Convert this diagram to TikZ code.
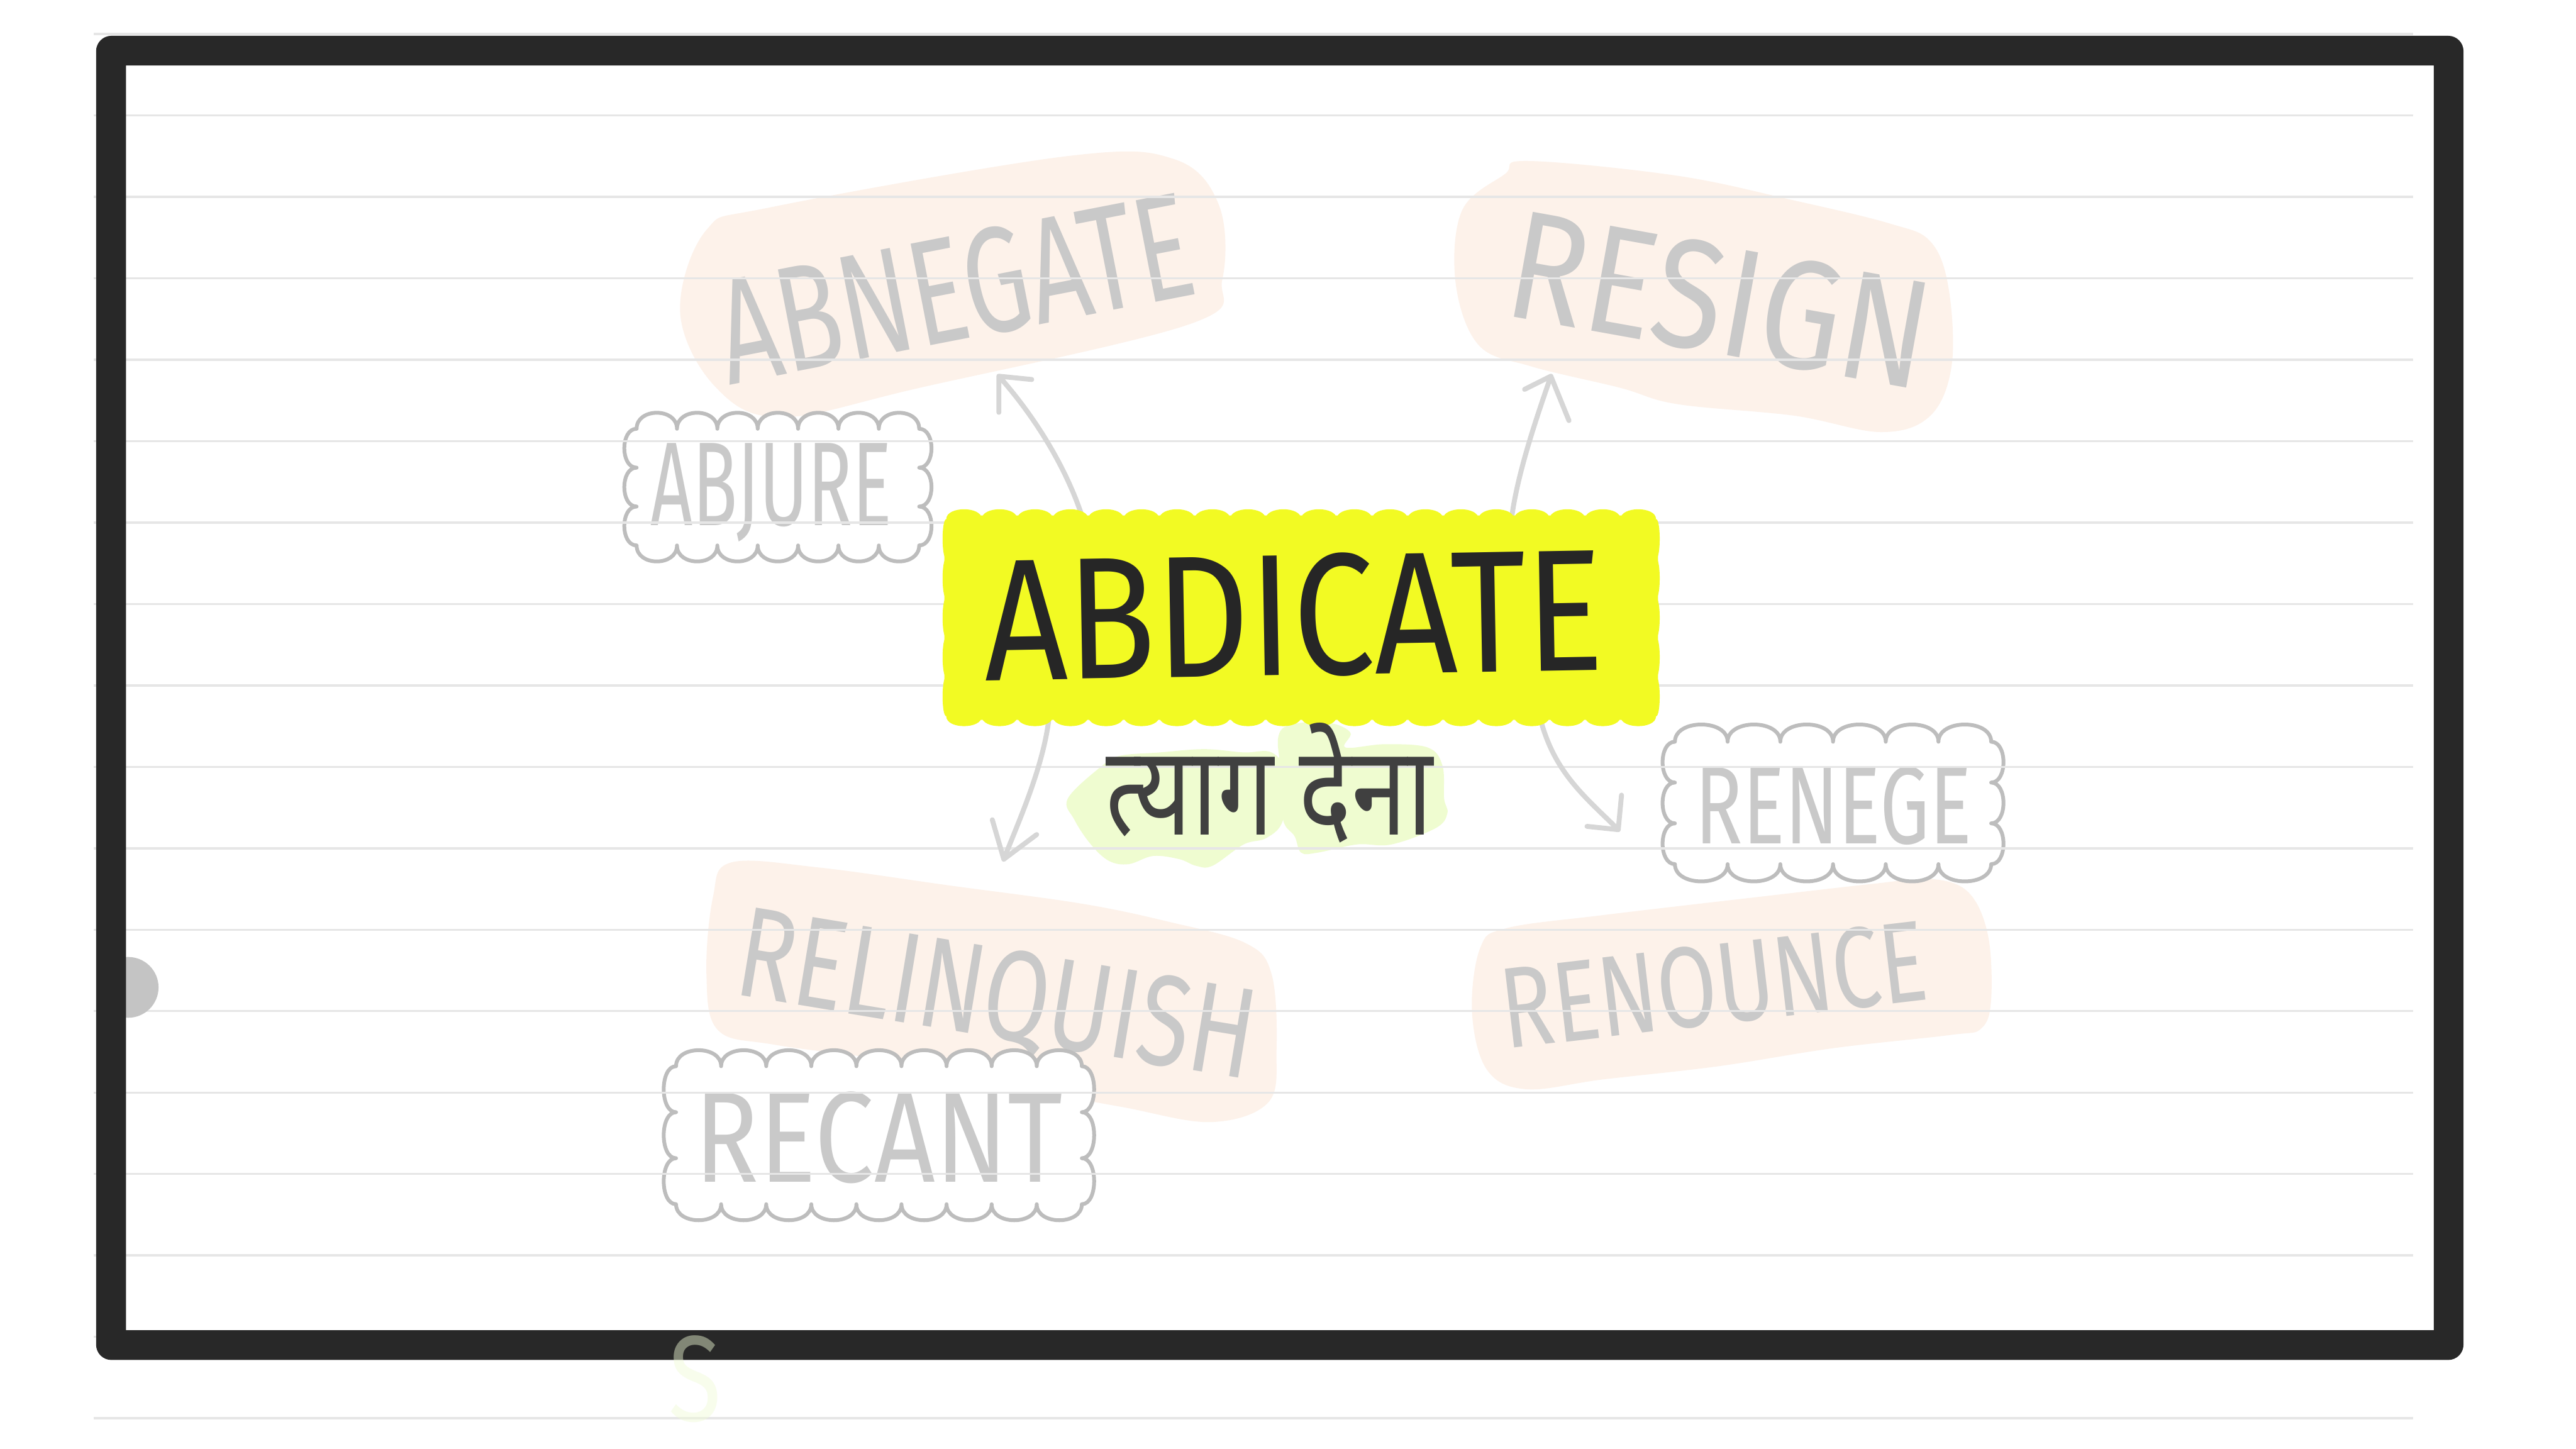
\documentclass[tikz,border=0pt]{standalone}
\usepackage{fontspec}
\usepackage{graphicx}
\usetikzlibrary{calc}
\newfontfamily\handfont{Fira Sans}
\newfontfamily\devafont[Script=Devanagari]{Noto Sans}
\definecolor{framec}{HTML}{282828}
\definecolor{rulec}{HTML}{E6E6E6}
\definecolor{peach}{RGB}{253,242,234}
\definecolor{lime}{RGB}{239,252,208}
\definecolor{hiyellow}{RGB}{242,250,35}
\definecolor{ink}{HTML}{262626}
\definecolor{devink}{HTML}{404040}
\definecolor{faint}{HTML}{C9C9C9}
\definecolor{cloudc}{HTML}{BDBDBD}
\definecolor{arrowc}{HTML}{D6D6D6}
\definecolor{dotc}{HTML}{C4C4C4}
\definecolor{strayc}{RGB}{240,252,215}
% #1 style, #2 x1, #3 y1, #4 x2, #5 y2, #6 bumps across, #7 bumps down, #8 top/bottom bulge, #9 side bulge
\newcommand\puffpath[9]{%
  \pgfmathsetmacro\pdx{(#4-#2)/#6}%
  \pgfmathsetmacro\pdy{(#5-#3)/#7}%
  \path[#1] (#2,#3)
    \foreach \i in {1,...,#6} { .. controls ({#2+(\i-1)*\pdx},{#3-#8}) and ({#2+\i*\pdx},{#3-#8}) .. ({#2+\i*\pdx},#3) }
    \foreach \j in {1,...,#7} { .. controls ({#4+#9},{#3+(\j-1)*\pdy}) and ({#4+#9},{#3+\j*\pdy}) .. (#4,{#3+\j*\pdy}) }
    \foreach \i in {1,...,#6} { .. controls ({#4-(\i-1)*\pdx},{#5+#8}) and ({#4-\i*\pdx},{#5+#8}) .. ({#4-\i*\pdx},#5) }
    \foreach \j in {1,...,#7} { .. controls ({#2-#9},{#5-(\j-1)*\pdy}) and ({#2-#9},{#5-\j*\pdy}) .. (#2,{#5-\j*\pdy}) }
    -- cycle;%
}
\begin{document}
\begin{tikzpicture}[x=1pt,y=-1pt,
  ruleline/.style={draw=rulec, line width=1.3pt},
  word/.style={inner sep=0pt, outer sep=0pt, text depth=0pt, font=\handfont},
  faintword/.style={word, text=faint},
  cloudfill/.style={fill=white},
  cloudedge/.style={draw=cloudc, line width=2.3pt, line join=round},
  conn/.style={draw=arrowc, line width=3pt, line cap=round, line join=round},
  boxfill/.style={fill=hiyellow},
]
\useasboundingbox (0,0) rectangle (1568,882);
\fill[white] (0,0) rectangle (1568,882);

% peach blobs
\fill[peach] plot[smooth cycle, tension=0.6] coordinates {(414,190) (430,140) (470,126) (650,95) (715,97) (742,125) (744,170) (725,197) (560,236) (475,254) (435,235)};
\fill[peach] plot[smooth cycle, tension=0.6] coordinates {(890,128) (916,106) (930,98) (1021,107) (1092,122) (1150,136) (1175,147) (1186,175) (1188,222) (1175,253) (1145,263) (1092,253) (1021,246) (986,236) (932,223) (900,210) (886,172)};
\fill[peach] plot[smooth cycle, tension=0.6] coordinates {(434,546) (445,525) (498,528) (578,539) (658,550) (711,561) (758,574) (774,593) (777,639) (772,671) (737,683) (684,674) (631,664) (551,647) (472,636) (437,627) (430,593)};
\fill[peach] plot[smooth cycle, tension=0.6] coordinates {(901,577) (917,565) (976,557) (1070,546) (1140,538) (1175,535) (1198,543) (1210,569) (1212,608) (1206,626) (1187,630) (1116,638) (1046,649) (976,657) (929,663) (905,651) (896,616)};

% green blobs
\fill[lime] plot[smooth cycle, tension=0.6] coordinates {(650,486) (671,466) (682,460) (706,458) (733,456) (757,458) (774,458) (783,471) (781,499) (771,510) (757,514) (738,527) (728,527) (718,523) (702,521) (687,526) (675,524) (664,514) (654,499)};
\fill[lime] plot[smooth cycle, tension=0.6] coordinates {(778,449) (786,441) (809,440) (822,446) (819,455) (843,453) (869,455) (878,466) (879,486) (881,495) (874,504) (847,514) (826,514) (802,519) (792,519) (788,509) (781,499) (780,472)};

% cloud interiors
\puffpath{cloudfill}{387.5}{261}{559.5}{332}{7}{3}{13}{10}
\puffpath{cloudfill}{411.5}{649}{658.5}{733}{9}{3}{13}{10}
\puffpath{cloudfill}{1019.5}{451.5}{1212}{526}{6}{3}{14}{10}

% faint words
\node[faintword, rotate=11] (abnegate) at (581,175) {\resizebox{292pt}{64pt}{ABNEGATE}};
\node[faintword, rotate=-10.2] (resign) at (1047,182) {\resizebox{258pt}{66pt}{RESIGN}};
\node[faintword, rotate=-9.4] (relinquish) at (607,604) {\resizebox{318pt}{55pt}{RELINQUISH}};
\node[faintword, rotate=6.7] (renounce) at (1043,599) {\resizebox{260pt}{49pt}{RENOUNCE}};
\node[faintword] (abjure) at (469.5,295) {\resizebox{147pt}{50pt}{ABJURE}};
\node[faintword] (recant) at (535,692) {\resizebox{224pt}{55pt}{RECANT}};
\node[faintword] (renege) at (1116,490) {\resizebox{168pt}{47pt}{RENEGE}};

% cloud outlines
\puffpath{cloudedge}{387.5}{261}{559.5}{332}{7}{3}{13}{10}
\puffpath{cloudedge}{411.5}{649}{658.5}{733}{9}{3}{13}{10}
\puffpath{cloudedge}{1019.5}{451.5}{1212}{526}{6}{3}{14}{10}

% ruled lines
\foreach \k in {-1,...,16} {
  \draw[ruleline] (57,{70.3+49.56*\k}) -- (1469,{70.3+49.56*\k});
}

% central box (anchor frame for the connectors)
\node[minimum width=434pt, minimum height=124pt, inner sep=0pt] (box) at (792,376) {};

% connectors
\coordinate (tipneg) at (608,229);
\coordinate (tipres) at (944,229);
\coordinate (tiprel) at (611,523);
\coordinate (tipren) at (985,505);
\draw[conn] ($(box.north west)+(85,4)$) .. controls (648,280) and (625,248) .. (tipneg) -- ++(20,2) (tipneg) -- ++(0,22);
\draw[conn] ($(box.north west)+(345,4)$) .. controls (923,290) and (935,255) .. (tipres) -- ++(-16,8) (tipres) -- ++(11,27);
\draw[conn] ($(box.south west)+(64,-4)$) .. controls (636,465) and (620,500) .. (tiprel) -- ++(-7,-24) (tiprel) -- ++(20,-15);
\draw[conn] ($(box.south west)+(362,-4)$) .. controls (945,470) and (965,485) .. (tipren) -- ++(2,-21) (tipren) -- ++(-19,-2);

\puffpath{boxfill}{576}{316}{1008}{436}{20}{5}{8}{3}
\fill[hiyellow, rounded corners=14pt] (box.north west) rectangle (box.south east);
\node[word, text=ink, rotate=1] (abdicate) at (787.5,374) {\resizebox{377pt}{74pt}{ABDICATE}};
\node[inner sep=0pt, text=devink, font=\devafont] (hindi) at (772.5,476.5) {\resizebox*{199pt}{73pt}{त्याग देना}};

% side dot and frame
\fill[dotc] (78,601) circle (18.5);
\fill[framec, even odd rule] (58.5,21.8) [rounded corners=9.3pt] rectangle (1499.5,827.8) [sharp corners] (76.7,39.9) rectangle (1481.4,809.7);

\node[word, text=strayc, text opacity=0.45] (stray) at (423,839) {\resizebox{32pt}{52pt}{S}};
\end{tikzpicture}
\end{document}
